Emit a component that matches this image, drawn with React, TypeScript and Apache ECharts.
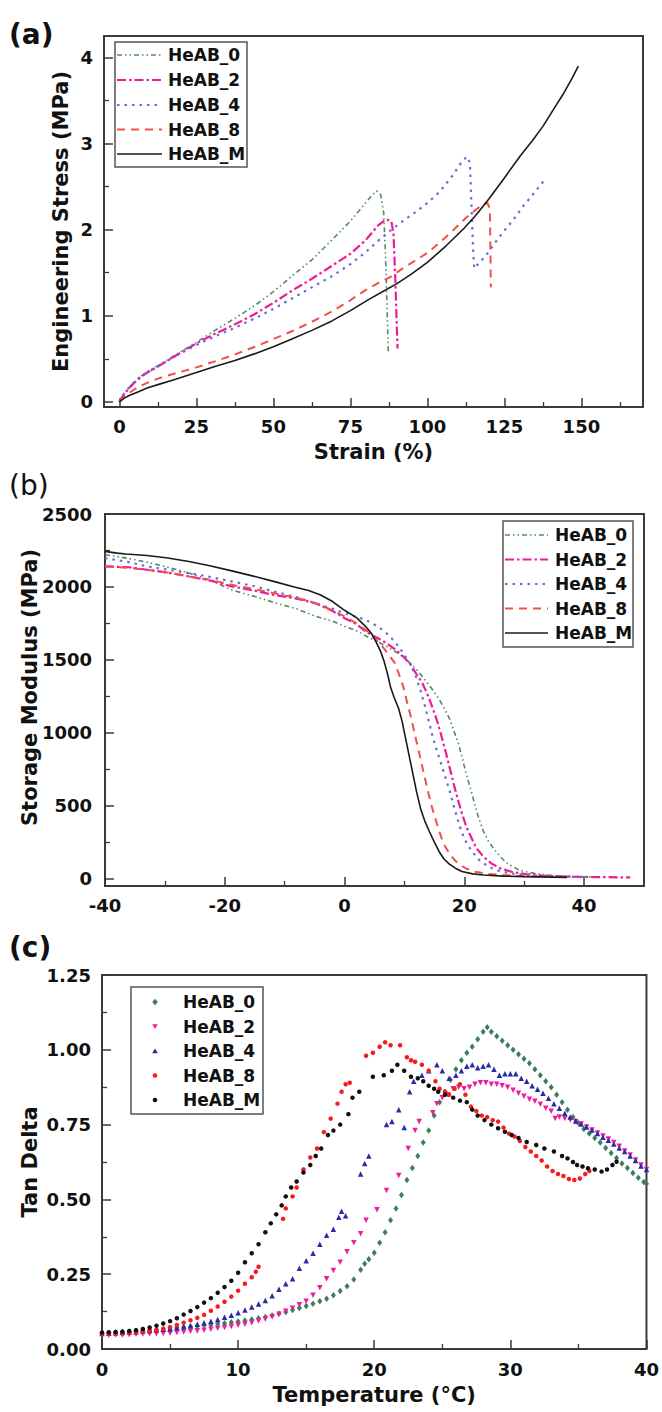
import React, { useEffect, useRef } from "react";
import * as echarts from "echarts";

const FONT = '"DejaVu Sans", "Liberation Sans", sans-serif';
const INK = "#111111";
const FRAME = "#3a3a3a";

const seriesNames = ["HeAB_0", "HeAB_2", "HeAB_4", "HeAB_8", "HeAB_M"];

// ---------- (a) tensile ----------
const strainTicks = [0, 25, 50, 75, 100, 125, 150];
const strainMinorTicks = [12.5, 37.5, 62.5, 87.5, 112.5, 137.5, 162.5];
const stressTicks = [0, 1, 2, 3, 4];
const stressMinorTicks = [0.5, 1.5, 2.5, 3.5];

const tensileHeAB0 = [[0,0],[1,0.07],[2,0.12],[4,0.2],[6,0.27],[9,0.35],[12.5,0.42],[18,0.54],[25,0.69],[31,0.83],[37.5,0.97],[44,1.12],[50,1.28],[56,1.46],[62.5,1.65],[69,1.88],[75,2.1],[79,2.27],[82,2.4],[83.5,2.45],[84.8,2.41],[85.8,2.2],[86.4,1.7],[86.9,1.1],[87.3,0.58]];
const tensileHeAB2 = [[0,0],[1,0.06],[2,0.11],[4,0.19],[6,0.26],[9,0.34],[12.5,0.41],[18,0.53],[25,0.68],[31,0.79],[37.5,0.9],[44,1.02],[50,1.15],[56,1.29],[62.5,1.43],[69,1.58],[75,1.72],[80,1.88],[84,2.05],[86.5,2.12],[88.3,2.1],[89,1.95],[89.6,1.4],[90.3,0.62]];
const tensileHeAB4 = [[0,0],[1,0.07],[2,0.12],[4,0.2],[6,0.27],[9,0.34],[12.5,0.41],[18,0.53],[25,0.66],[31,0.76],[37.5,0.86],[44,0.97],[50,1.08],[56,1.2],[62.5,1.33],[69,1.46],[75,1.6],[80,1.74],[84,1.87],[88,1.99],[92,2.1],[96,2.2],[100,2.31],[104,2.44],[108,2.62],[111,2.78],[112.8,2.85],[113.8,2.78],[114.3,2.3],[114.8,1.8],[115.2,1.55],[116.5,1.6],[119,1.7],[122,1.85],[125,1.99],[128,2.12],[131,2.27],[135,2.44],[138.5,2.6]];
const tensileHeAB8 = [[0,0],[1.5,0.06],[3,0.1],[6,0.17],[9,0.22],[12.5,0.27],[18,0.33],[25,0.4],[31,0.47],[37.5,0.55],[44,0.64],[50,0.73],[56,0.82],[62.5,0.93],[69,1.05],[75,1.18],[80,1.3],[84,1.38],[88,1.45],[92,1.55],[96,1.64],[100,1.73],[104,1.85],[108,1.98],[112,2.12],[116,2.24],[118,2.29],[119.5,2.31],[120.3,2.24],[120.6,1.33]];
const tensileHeABM = [[0,0],[1.5,0.04],[3,0.07],[6,0.115],[9,0.16],[12.5,0.2],[18,0.26],[25,0.34],[31,0.41],[37.5,0.48],[44,0.56],[50,0.64],[56,0.73],[62.5,0.83],[69,0.94],[75,1.06],[81,1.19],[87,1.31],[90,1.37],[95,1.49],[100,1.62],[106,1.81],[112,2.02],[116,2.18],[120,2.36],[125,2.6],[130,2.85],[134,3.03],[137.5,3.2],[141,3.4],[144,3.57],[147,3.76],[149,3.9]];

// ---------- (b) storage modulus ----------
const dmaTempTicks = [-40, -20, 0, 20, 40];
const dmaTempMinorTicks = [-30, -10, 10, 30];
const modulusTicks = [0, 500, 1000, 1500, 2000, 2500];
const modulusMinorTicks = [250, 750, 1250, 1750, 2250];

const modulusHeAB0 = [[-40,2221],[-36,2195],[-33,2170],[-29,2130],[-26,2095],[-22,2040],[-18.9,1980],[-15,1935],[-11.9,1895],[-8,1850],[-4.9,1800],[-2,1765],[0,1730],[2,1700],[3.5,1665],[5.5,1625],[7,1592],[9,1545],[10.5,1495],[12,1435],[13.5,1360],[14.7,1295],[15.8,1230],[16.8,1157],[17.6,1090],[18.2,1020],[19,930],[19.6,837],[20.3,720],[21.1,608],[21.8,500],[22.5,403],[23.2,325],[23.9,265],[25,200],[26,151],[27,110],[28.1,82],[29,62],[30.2,48],[32,34],[33.7,25],[36,18],[39.3,14],[42,12]];
const modulusHeAB2 = [[-40,2141],[-36,2135],[-33,2118],[-29,2095],[-26,2072],[-22,2040],[-18.9,2004],[-15,1975],[-11.9,1946],[-8,1920],[-4.9,1889],[-2,1835],[0,1786],[2,1745],[3.5,1695],[5.5,1650],[7,1615],[8.5,1570],[9.8,1523],[11,1470],[11.9,1409],[13,1340],[14,1249],[14.7,1170],[15.4,1089],[16.1,990],[16.8,883],[17.5,770],[18.2,654],[18.9,545],[19.6,448],[20.3,360],[21.1,288],[22,210],[23.2,151],[24.5,105],[26,71],[28,46],[30.2,32],[33,22],[37.2,14],[42,11],[47.7,9]];
const modulusHeAB4 = [[-40,2198],[-36,2170],[-33,2141],[-29,2115],[-26,2095],[-22,2065],[-18.9,2038],[-15,2005],[-11.9,1969],[-8,1930],[-4.9,1889],[-2,1850],[0,1821],[2,1795],[3.5,1775],[5.5,1730],[7,1683],[8.5,1620],[9.8,1546],[11,1470],[11.9,1386],[12.6,1300],[13.3,1203],[14,1090],[14.7,975],[15.4,880],[16.1,791],[16.8,700],[17.5,608],[18.2,505],[18.9,403],[19.6,315],[20.4,242],[21.4,180],[22.5,128],[23.8,88],[25.3,59],[27.5,38],[30.2,25],[35.1,14],[40,11]];
const modulusHeAB8 = [[-40,2141],[-36,2130],[-33,2118],[-29,2095],[-26,2072],[-22,2045],[-18.9,2015],[-15,1985],[-11.9,1958],[-8,1925],[-4.9,1889],[-2,1840],[0,1798],[2,1750],[3.5,1706],[5,1650],[6.3,1592],[7.4,1535],[8.4,1478],[9.1,1400],[9.8,1317],[10.5,1200],[11.2,1089],[11.9,960],[12.6,837],[13.3,710],[14,586],[14.7,475],[15.4,380],[16.1,290],[16.8,220],[17.8,155],[18.9,105],[20.3,70],[21.8,48],[24,33],[26.7,25],[30,17],[33.7,14]];
const modulusHeABM = [[-40,2244],[-38,2232],[-36.5,2226],[-33,2215],[-29.5,2198],[-26,2174],[-22.5,2145],[-19,2112],[-15.4,2076],[-12,2040],[-8.4,2000],[-6,1975],[-4,1945],[-2,1900],[0,1840],[2,1790],[3.5,1730],[4.5,1680],[5.3,1620],[6,1560],[6.6,1490],[7.2,1400],[7.7,1310],[8.3,1240],[9,1170],[9.6,1080],[10.2,960],[10.8,840],[11.4,720],[12,600],[12.7,480],[13.4,395],[14.2,320],[15,250],[15.8,185],[16.6,135],[17.5,100],[18.5,72],[19.6,50],[21.4,33],[23.2,25],[26.5,18],[30.2,14],[37.2,9]];

// ---------- (c) tan delta ----------
const tanTempTicks = [0, 10, 20, 30, 40];
const tanTempMinorTicks = [5, 15, 25, 35];
const tanDeltaTicks = [0, 0.25, 0.5, 0.75, 1, 1.25];
const tanDeltaMinorTicks = [0.125, 0.375, 0.625, 0.875, 1.125];

const tanHeAB0 = [[0,0.052],[0.5,0.053],[1,0.055],[1.5,0.056],[2,0.058],[2.5,0.06],[3,0.062],[3.5,0.063],[4,0.065],[4.5,0.067],[5,0.069],[5.5,0.071],[6,0.073],[6.5,0.075],[7,0.077],[7.5,0.079],[8,0.081],[8.5,0.084],[9,0.086],[9.5,0.089],[10,0.092],[10.5,0.095],[11,0.099],[11.5,0.103],[12,0.107],[12.5,0.112],[13,0.118],[13.5,0.124],[14,0.13],[14.5,0.137],[15,0.144],[15.5,0.151],[16,0.16],[16.5,0.168],[17,0.18],[17.5,0.194],[18,0.21],[18.5,0.232],[19,0.265],[19.3,0.285],[19.6,0.3],[20,0.322],[20.4,0.355],[20.8,0.39],[21.2,0.43],[21.6,0.47],[22,0.515],[22.4,0.565],[22.8,0.605],[23.2,0.645],[23.6,0.69],[24,0.73],[24.4,0.78],[24.8,0.825],[25.2,0.86],[25.6,0.9],[26,0.935],[26.4,0.965],[26.8,0.99],[27.2,1.01],[27.6,1.035],[28,1.06],[28.3,1.075],[28.6,1.06],[29,1.045],[29.4,1.03],[29.8,1.015],[30.2,1.0],[30.6,0.985],[31,0.97],[31.4,0.955],[31.8,0.935],[32.2,0.915],[32.6,0.895],[33,0.875],[33.4,0.85],[33.8,0.825],[34.2,0.8],[34.6,0.775],[35,0.755],[35.4,0.735],[35.8,0.72],[36.2,0.705],[36.6,0.69],[37,0.672],[37.4,0.655],[37.8,0.638],[38.2,0.62],[38.6,0.605],[39,0.588],[39.4,0.572],[39.8,0.558],[40,0.552]];
const tanHeAB2 = [[0,0.045],[0.5,0.046],[1,0.047],[1.5,0.047],[2,0.048],[2.5,0.049],[3,0.05],[3.5,0.05],[4,0.051],[4.5,0.052],[5,0.053],[5.5,0.055],[6,0.057],[6.5,0.059],[7,0.061],[7.5,0.063],[8,0.066],[8.5,0.069],[9,0.072],[9.5,0.075],[10,0.079],[10.5,0.083],[11,0.088],[11.5,0.094],[12,0.1],[12.5,0.108],[13,0.116],[13.5,0.126],[14,0.136],[14.5,0.148],[15,0.16],[15.5,0.18],[16,0.205],[16.5,0.235],[17,0.262],[17.5,0.29],[18,0.325],[18.5,0.355],[19,0.385],[19.4,0.43],[20.2,0.465],[20.9,0.53],[21.8,0.58],[22.5,0.67],[23,0.73],[23.3,0.76],[24.3,0.79],[24.6,0.82],[25,0.84],[25.4,0.85],[25.8,0.87],[26.2,0.875],[26.6,0.87],[27,0.875],[27.4,0.885],[27.8,0.89],[28.2,0.89],[28.6,0.885],[29,0.885],[29.4,0.88],[29.8,0.875],[30.2,0.865],[30.6,0.855],[31,0.845],[31.4,0.835],[31.8,0.828],[32.2,0.818],[32.6,0.805],[33,0.795],[33.3,0.77],[33.6,0.775],[34,0.77],[34.4,0.765],[34.8,0.76],[35.2,0.752],[35.6,0.742],[36,0.732],[36.4,0.722],[36.8,0.712],[37.2,0.702],[37.6,0.69],[38,0.678],[38.4,0.662],[38.8,0.648],[39.2,0.632],[39.6,0.615],[40,0.6]];
const tanHeAB4 = [[0,0.052],[0.5,0.053],[1,0.054],[1.5,0.055],[2,0.057],[2.5,0.058],[3,0.06],[3.5,0.062],[4,0.064],[4.5,0.066],[5,0.068],[5.5,0.071],[6,0.074],[6.5,0.078],[7,0.083],[7.5,0.088],[8,0.093],[8.5,0.099],[9,0.106],[9.5,0.113],[10,0.121],[10.5,0.13],[11,0.14],[11.5,0.15],[12,0.162],[12.5,0.178],[13,0.2],[13.5,0.218],[14,0.235],[14.5,0.27],[15,0.295],[15.5,0.32],[16,0.35],[16.5,0.38],[17,0.4],[17.4,0.44],[17.6,0.46],[17.9,0.445],[19,0.585],[19.3,0.62],[19.6,0.645],[20.9,0.75],[21.3,0.76],[21.8,0.8],[22.2,0.74],[22.6,0.86],[22.9,0.895],[23.5,0.915],[24,0.93],[24.6,0.95],[25,0.93],[25.5,0.905],[26,0.915],[26.4,0.93],[26.8,0.945],[27.2,0.95],[27.6,0.94],[28,0.945],[28.4,0.95],[28.8,0.935],[29.2,0.915],[29.6,0.92],[30,0.92],[30.4,0.92],[30.8,0.905],[31.2,0.895],[31.6,0.88],[32,0.868],[32.4,0.855],[32.8,0.838],[33.2,0.82],[33.6,0.805],[34,0.788],[34.4,0.775],[34.8,0.762],[35.2,0.752],[35.6,0.742],[36,0.732],[36.4,0.72],[36.8,0.708],[37.2,0.698],[37.6,0.685],[38,0.672],[38.4,0.66],[38.8,0.645],[39.2,0.63],[39.6,0.612],[40,0.6]];
const tanHeAB8 = [[0,0.05],[0.5,0.051],[1,0.052],[1.5,0.053],[2,0.054],[2.5,0.056],[3,0.058],[3.5,0.06],[4,0.063],[4.5,0.067],[5,0.073],[5.5,0.08],[6,0.088],[6.5,0.096],[7,0.104],[7.5,0.114],[8,0.128],[8.5,0.142],[9,0.158],[9.5,0.175],[10,0.195],[10.5,0.218],[11,0.24],[11.3,0.258],[11.5,0.275],[13.3,0.435],[13.5,0.47],[14,0.51],[14.3,0.54],[14.8,0.6],[15.3,0.64],[15.8,0.67],[16.3,0.725],[16.8,0.77],[17.3,0.82],[17.6,0.86],[17.9,0.885],[18.2,0.89],[19.4,0.98],[19.9,0.99],[20.4,1.01],[20.8,1.025],[21.2,1.015],[21.9,1.015],[22.4,0.975],[22.7,0.965],[23,0.96],[23.5,0.95],[24,0.93],[24.5,0.895],[24.8,0.87],[25.2,0.86],[25.5,0.85],[25.9,0.87],[26.3,0.885],[26.7,0.85],[27.1,0.81],[27.5,0.795],[27.9,0.78],[28.3,0.775],[28.7,0.765],[29.1,0.76],[29.5,0.74],[29.9,0.72],[30.3,0.71],[30.7,0.695],[31.1,0.675],[31.5,0.66],[31.9,0.645],[32.3,0.63],[32.7,0.61],[33.1,0.595],[33.5,0.585],[33.9,0.578],[34.3,0.568],[34.7,0.565],[35.1,0.57],[35.5,0.585],[35.8,0.595]];
const tanHeABM = [[0,0.055],[0.5,0.056],[1,0.057],[1.5,0.058],[2,0.06],[2.5,0.063],[3,0.067],[3.5,0.072],[4,0.078],[4.5,0.085],[5,0.093],[5.5,0.103],[6,0.115],[6.5,0.127],[7,0.14],[7.5,0.155],[8,0.17],[8.5,0.188],[9,0.207],[9.5,0.228],[10,0.255],[10.5,0.29],[11,0.32],[11.5,0.35],[12,0.39],[12.4,0.42],[12.8,0.45],[13.2,0.48],[13.5,0.51],[13.9,0.54],[14.3,0.56],[14.8,0.59],[15.3,0.615],[15.7,0.645],[16.1,0.67],[16.6,0.715],[17,0.73],[17.5,0.75],[18.1,0.785],[18.4,0.84],[18.9,0.86],[19.9,0.91],[20.7,0.915],[21.3,0.93],[21.7,0.95],[22.2,0.93],[22.7,0.91],[23.2,0.905],[23.6,0.895],[24,0.88],[24.4,0.87],[24.7,0.86],[25.2,0.85],[25.8,0.84],[26.3,0.83],[26.8,0.825],[27.2,0.8],[27.6,0.78],[28.1,0.765],[28.6,0.75],[29.1,0.738],[29.6,0.726],[30.1,0.715],[30.6,0.705],[31.2,0.692],[31.9,0.682],[32.5,0.67],[33.2,0.66],[33.8,0.645],[34.2,0.637],[34.6,0.625],[34.9,0.615],[35.3,0.61],[35.7,0.604],[36.2,0.6],[36.7,0.593],[37.1,0.6],[37.5,0.615],[37.8,0.626]];

// ---------- styles ----------
const lineColors = ["#4e8c6c", "#ee1c96", "#6b6bd8", "#f0504a", "#1a1a1a"];
const lineDashes: any[] = [[5, 3, 1.5, 3, 1.5, 3], [9, 3, 2.5, 3], [2.5, 5], [8, 6], "solid"];
const lineWidths = [1.6, 2.2, 2.2, 2, 1.6];
const scatterColors = ["#3b7d5c", "#f01d9b", "#2b2ba6", "#f41c1c", "#111111"];

const tickLabelStyle = { fontFamily: FONT, fontWeight: "bold", fontSize: 18, color: INK };
const nameStyle = { fontFamily: FONT, fontWeight: "bold", fontSize: 21, color: INK };

function mainAxis(pos: string, min: number, max: number, ticks: number[], margin: number, fmt: (v: number) => string, name?: string, nameGap?: number, namePad?: number[]) {
  const ax: any = {
    type: "value",
    position: pos,
    min,
    max,
    axisLine: { show: false, onZero: false },
    splitLine: { show: false },
    axisTick: { show: true, inside: true, length: 9, customValues: ticks, lineStyle: { color: FRAME, width: 1.5 } },
    axisLabel: { show: true, customValues: ticks, margin, formatter: fmt, ...tickLabelStyle },
  };
  if (name) {
    ax.name = name;
    ax.nameLocation = "middle";
    ax.nameGap = nameGap;
    ax.nameMoveOverlap = false;
    ax.nameTextStyle = { ...nameStyle, padding: namePad || 0 };
  }
  return ax;
}

function minorAxis(pos: string, min: number, max: number, ticks: number[]) {
  return {
    type: "value",
    position: pos,
    min,
    max,
    axisLine: { show: false, onZero: false },
    splitLine: { show: false },
    axisLabel: { show: false },
    axisTick: { show: true, inside: true, length: 5, customValues: ticks, lineStyle: { color: FRAME, width: 1.3 } },
  };
}

const plainFmt = (v: number) => String(v);
const twoDecFmt = (v: number) => v.toFixed(2);

function gridBox(left: number, top: number, width: number, height: number) {
  return { left, top, width, height, show: true, borderColor: FRAME, borderWidth: 2, backgroundColor: "transparent" };
}

function panelLabel(text: string, x: number, y: number, weight: string) {
  return {
    type: "text",
    z: 100,
    style: { text, x, y, font: `${weight} 28px ${FONT}`, fill: INK, verticalAlign: "middle" },
  };
}

function lineLegend(box: number[], rows: number[], lx1: number, lx2: number, tx: number) {
  const els: any[] = [
    { type: "rect", z: 90, shape: { x: box[0], y: box[1], width: box[2], height: box[3] }, style: { fill: "#ffffff", stroke: "#555555", lineWidth: 1.5 } },
  ];
  seriesNames.forEach((n, i) => {
    els.push({
      type: "line",
      z: 95,
      shape: { x1: lx1, y1: rows[i], x2: lx2, y2: rows[i] },
      style: { stroke: lineColors[i], lineWidth: lineWidths[i], lineDash: lineDashes[i] === "solid" ? null : lineDashes[i] },
    });
    els.push({
      type: "text",
      z: 95,
      style: { text: n, x: tx, y: rows[i], font: `bold 17px ${FONT}`, fill: INK, verticalAlign: "middle" },
    });
  });
  return els;
}

function markerLegend(box: number[], rows: number[], mx: number, tx: number) {
  const els: any[] = [
    { type: "rect", z: 90, shape: { x: box[0], y: box[1], width: box[2], height: box[3] }, style: { fill: "#ffffff", stroke: "#555555", lineWidth: 1.5 } },
  ];
  const y0 = rows[0], y1 = rows[1], y2 = rows[2], y3 = rows[3], y4 = rows[4];
  els.push({ type: "polygon", z: 95, shape: { points: [[mx, y0 - 3.2], [mx + 2.8, y0], [mx, y0 + 3.2], [mx - 2.8, y0]] }, style: { fill: scatterColors[0] } });
  els.push({ type: "polygon", z: 95, shape: { points: [[mx - 2.8, y1 - 2.3], [mx + 2.8, y1 - 2.3], [mx, y1 + 2.6]] }, style: { fill: scatterColors[1] } });
  els.push({ type: "polygon", z: 95, shape: { points: [[mx - 2.8, y2 + 2.3], [mx + 2.8, y2 + 2.3], [mx, y2 - 2.6]] }, style: { fill: scatterColors[2] } });
  els.push({ type: "circle", z: 95, shape: { cx: mx, cy: y3, r: 2.3 }, style: { fill: scatterColors[3] } });
  els.push({ type: "circle", z: 95, shape: { cx: mx, cy: y4, r: 2.3 }, style: { fill: scatterColors[4] } });
  seriesNames.forEach((n, i) => {
    els.push({
      type: "text",
      z: 95,
      style: { text: n, x: tx, y: rows[i], font: `bold 17px ${FONT}`, fill: INK, verticalAlign: "middle" },
    });
  });
  return els;
}

function lineSeries(data: number[][][]) {
  return data.map((d, i) => ({
    type: "line",
    name: seriesNames[i],
    data: d,
    xAxisIndex: 0,
    yAxisIndex: 0,
    symbol: "none",
    showSymbol: false,
    silent: true,
    lineStyle: { color: lineColors[i], width: lineWidths[i], type: lineDashes[i] },
    itemStyle: { color: lineColors[i] },
  }));
}

const optionA: any = {
  animation: false,
  textStyle: { fontFamily: FONT },
  grid: gridBox(104, 36, 539, 371),
  xAxis: [
    mainAxis("bottom", -5, 170, strainTicks, 10, plainFmt, "Strain (%)", 34),
    minorAxis("bottom", -5, 170, strainMinorTicks),
  ],
  yAxis: [
    mainAxis("left", -0.06, 4.25, stressTicks, 11, plainFmt, "Engineering Stress (MPa)", 33),
    minorAxis("left", -0.06, 4.25, stressMinorTicks),
  ],
  series: lineSeries([tensileHeAB0, tensileHeAB2, tensileHeAB4, tensileHeAB8, tensileHeABM]),
  graphic: [
    panelLabel("(a)", 9, 34, "bold"),
    ...lineLegend([115, 42, 132, 125], [55, 80, 105, 129.5, 154], 117, 162, 168),
  ],
};

const optionB: any = {
  animation: false,
  textStyle: { fontFamily: FONT },
  grid: gridBox(105, 44, 539, 372),
  xAxis: [
    mainAxis("bottom", -40, 50, dmaTempTicks, 10, plainFmt),
    minorAxis("bottom", -40, 50, dmaTempMinorTicks),
  ],
  yAxis: [
    mainAxis("left", -50, 2500, modulusTicks, 13, plainFmt, "Storage Modulus (MPa)", 65, [0, 0, 0, 25]),
    minorAxis("left", -50, 2500, modulusMinorTicks),
  ],
  series: lineSeries([modulusHeAB0, modulusHeAB2, modulusHeAB4, modulusHeAB8, modulusHeABM]),
  graphic: [
    panelLabel("(b)", 9, 15, "normal"),
    ...lineLegend([503, 51, 130, 126], [65, 89.5, 114, 138.5, 163], 505, 548, 555),
  ],
};

const scatterSymbols = ["diamond", "triangle", "triangle", "circle", "circle"];
const scatterSizes: any[] = [[5, 6.5], 5.5, 5.5, 4.5, 4.5];
const scatterRotate = [0, 180, 0, 0, 0];

const optionC: any = {
  animation: false,
  textStyle: { fontFamily: FONT },
  grid: gridBox(102, 45, 546, 374),
  xAxis: [
    mainAxis("bottom", 0, 40, tanTempTicks, 11, plainFmt, "Temperature (\u00B0C)", 35),
    minorAxis("bottom", 0, 40, tanTempMinorTicks),
  ],
  yAxis: [
    mainAxis("left", 0, 1.25, tanDeltaTicks, 11, twoDecFmt, "Tan Delta", 62),
    minorAxis("left", 0, 1.25, tanDeltaMinorTicks),
  ],
  series: [tanHeAB0, tanHeAB2, tanHeAB4, tanHeAB8, tanHeABM].map((d, i) => ({
    type: "scatter",
    name: seriesNames[i],
    data: d,
    xAxisIndex: 0,
    yAxisIndex: 0,
    symbol: scatterSymbols[i],
    symbolSize: scatterSizes[i],
    symbolRotate: scatterRotate[i],
    silent: true,
    itemStyle: { color: scatterColors[i], opacity: 1 },
  })),
  graphic: [
    panelLabel("(c)", 9, 17, "bold"),
    ...markerLegend([131, 57, 132, 127], [72, 96.5, 121, 145.5, 170], 155, 183),
  ],
};

function EChart({ option, top, height }: { option: any; top: number; height: number }) {
  const ref = useRef<HTMLDivElement>(null);
  useEffect(() => {
    if (!ref.current) return;
    const chart = echarts.init(ref.current, null, { renderer: "svg" });
    chart.setOption(option);
    return () => chart.dispose();
  }, [option]);
  return <div ref={ref} style={{ position: "absolute", left: 0, top, width: 662, height }} />;
}

export default function App() {
  return (
    <div style={{ position: "absolute", left: 0, top: 0, width: 662, height: 1412, background: "#ffffff", overflow: "hidden" }}>
      <EChart option={optionA} top={0} height={470} />
      <EChart option={optionB} top={470} height={460} />
      <EChart option={optionC} top={930} height={482} />
    </div>
  );
}
